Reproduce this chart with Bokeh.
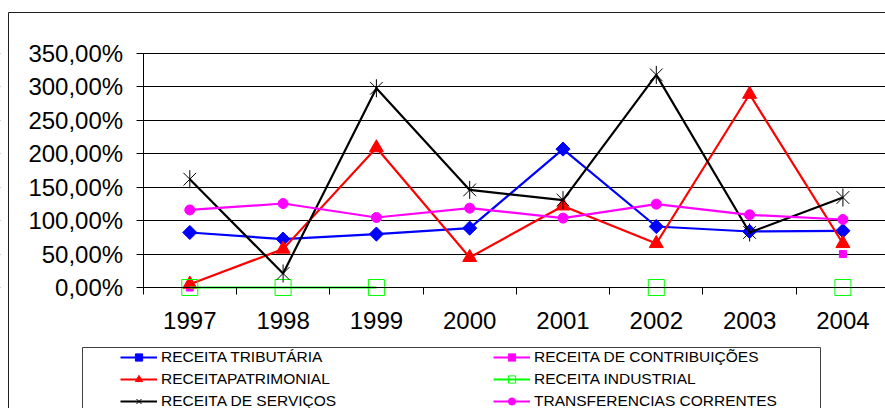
import math
from bokeh.plotting import figure
from bokeh.models import Range1d, FixedTicker, Legend, LegendItem, BoxAnnotation
from bokeh.embed import file_html
from bokeh.resources import INLINE

nan = float("nan")

# ---- data ----
years = ["1997", "1998", "1999", "2000", "2001", "2002", "2003", "2004"]
tributaria = [82.3, 72.4, 79.9, 88.8, 207.0, 91.2, 83.8, 84.8]
contribuicoes = [0.0, nan, nan, nan, nan, nan, nan, 50.0]
patrimonial = [5.0, 57.4, 209.0, 44.9, 122.0, 65.8, 289.0, 65.8]
industrial = [0.0, 0.0, 0.0, nan, nan, 0.0, nan, 0.0]
servicos = [162.0, 21.0, 298.0, 146.0, 130.7, 318.0, 82.3, 134.6]
transferencias = [116.0, 125.6, 104.7, 118.7, 103.8, 124.7, 108.7, 101.7]

y_ticks = [0, 50, 100, 150, 200, 250, 300, 350]
y_tick_labels = ["0,00%", "50,00%", "100,00%", "150,00%", "200,00%",
                 "250,00%", "300,00%", "350,00%"]

series_names = ["RECEITA TRIBUTÁRIA", "RECEITA DE CONTRIBUIÇÕES",
                "RECEITAPATRIMONIAL", "RECEITA INDUSTRIAL",
                "RECEITA DE SERVIÇOS", "TRANSFERENCIAS CORRENTES"]

x_idx = list(range(len(years)))
FONT = "Liberation Sans"

W, H = 885, 408
# pixel geometry of the plotting area (frame covers the whole canvas)
PX_X = 93.3            # pixels per category
X0_PX = 189.3          # pixel x of first category
PX_Y = 234.0 / 350.0   # pixels per percent
Y0_PX = 287.0          # pixel y of 0 %

p = figure(width=W, height=H, output_backend="svg", toolbar_location=None,
           x_range=Range1d(-X0_PX / PX_X, (W - X0_PX) / PX_X),
           y_range=Range1d(-(H - Y0_PX) / PX_Y, Y0_PX / PX_Y),
           min_border_left=0, min_border_right=0, min_border_top=0,
           min_border_bottom=0)
p.outline_line_color = None
p.background_fill_color = "white"
p.border_fill_color = "white"

# y axis
yax = p.yaxis[0]
yax.fixed_location = -0.5
yax.ticker = FixedTicker(ticks=y_ticks)
yax.major_label_overrides = {t: l for t, l in zip(y_ticks, y_tick_labels)}
yax.bounds = (0, 350)
yax.axis_line_color = "black"
yax.major_tick_line_color = "black"
yax.major_tick_out = 7
yax.major_tick_in = 0
yax.minor_tick_line_color = None
yax.major_label_standoff = 13
yax.major_label_text_font = FONT
yax.major_label_text_font_size = "24px"
yax.major_label_text_color = "black"

# x axis
xax = p.xaxis[0]
xax.fixed_location = 0
xax.bounds = (-0.5, 8)
xax.ticker = FixedTicker(ticks=x_idx, minor_ticks=[i - 0.5 for i in range(len(years) + 1)])
xax.major_label_overrides = {i: y for i, y in zip(x_idx, years)}
xax.axis_line_color = "black"
xax.major_tick_out = 0
xax.major_tick_in = 0
xax.major_tick_line_color = None
xax.minor_tick_out = 7
xax.minor_tick_in = 0
xax.minor_tick_line_color = "black"
xax.major_label_standoff = 17
xax.major_label_text_font = FONT
xax.major_label_text_font_size = "24px"
xax.major_label_text_color = "black"

p.xgrid.visible = False
p.ygrid.ticker = FixedTicker(ticks=y_ticks)
p.ygrid.grid_line_color = "black"
p.ygrid.grid_line_width = 1

# hide the gridlines left of the value axis
p.add_layout(BoxAnnotation(right=-0.5, fill_color="white", fill_alpha=1,
                           line_color=None, level="underlay"))

# series
BLUE, MAG, RED, GREEN, BLACK = "#0000FF", "#FF00FF", "#FF0000", "#00FF00", "#000000"
LW = 2.2

l1 = p.line(x_idx, tributaria, line_color=BLUE, line_width=LW)
m1 = p.scatter(x_idx, tributaria, marker="square", angle=math.pi / 4, size=10,
               fill_color=BLUE, line_color=BLUE)

l2 = p.line(x_idx, contribuicoes, line_color=MAG, line_width=LW)
m2 = p.scatter(x_idx, contribuicoes, marker="square", size=7, fill_color=MAG, line_color=MAG)

l3 = p.line(x_idx, patrimonial, line_color=RED, line_width=LW)
m3 = p.scatter(x_idx, patrimonial, marker="triangle", size=14, fill_color=RED, line_color=RED)

l4 = p.line(x_idx, industrial, line_color=GREEN, line_width=LW)
m4 = p.scatter(x_idx, industrial, marker="square", size=16, fill_color=None,
               line_color=GREEN, line_width=1)

l5 = p.line(x_idx, servicos, line_color=BLACK, line_width=LW)
m5a = p.scatter(x_idx, servicos, marker="x", size=18, line_color=BLACK, line_width=1)
m5b = p.scatter(x_idx, servicos, marker="dash", angle=math.pi / 2, size=18,
                line_color=BLACK, line_width=1)

l6 = p.line(x_idx, transferencias, line_color=MAG, line_width=LW)
m6 = p.scatter(x_idx, transferencias, marker="circle", size=10, fill_color=MAG, line_color=MAG)

common = dict(orientation="vertical", border_line_color=None, background_fill_alpha=0,
              padding=0, spacing=4, glyph_width=37, glyph_height=18, label_height=18,
              label_standoff=4, label_text_font=FONT, label_text_font_size="15.5px",
              label_text_color="black", margin=0)

leg_bottom = -2  # legend bottom edge, relative to canvas bottom
leg1 = Legend(items=[LegendItem(label=series_names[0], renderers=[l1, m1]),
                     LegendItem(label=series_names[2], renderers=[l3, m3]),
                     LegendItem(label=series_names[4], renderers=[l5, m5a, m5b])],
              location=(120, leg_bottom), **common)
leg2 = Legend(items=[LegendItem(label=series_names[1], renderers=[l2, m2]),
                     LegendItem(label=series_names[3], renderers=[l4, m4]),
                     LegendItem(label=series_names[5], renderers=[l6, m6])],
              location=(493, leg_bottom), **common)
p.add_layout(leg1)
p.add_layout(leg2)

box_units = dict(left_units="canvas", right_units="canvas",
                 top_units="canvas", bottom_units="canvas")
legend_box = BoxAnnotation(left=82, right=820, top=347, bottom=440, fill_alpha=0,
                           line_color="#404040", line_width=1, line_alpha=1,
                           **box_units)
outer_box = BoxAnnotation(left=8, right=2000, top=12, bottom=2000, fill_alpha=0,
                          line_color="#202020", line_width=1, line_alpha=1,
                          **box_units)
p.add_layout(legend_box)
p.add_layout(outer_box)

open("out.html", "w").write(file_html(p, INLINE))
